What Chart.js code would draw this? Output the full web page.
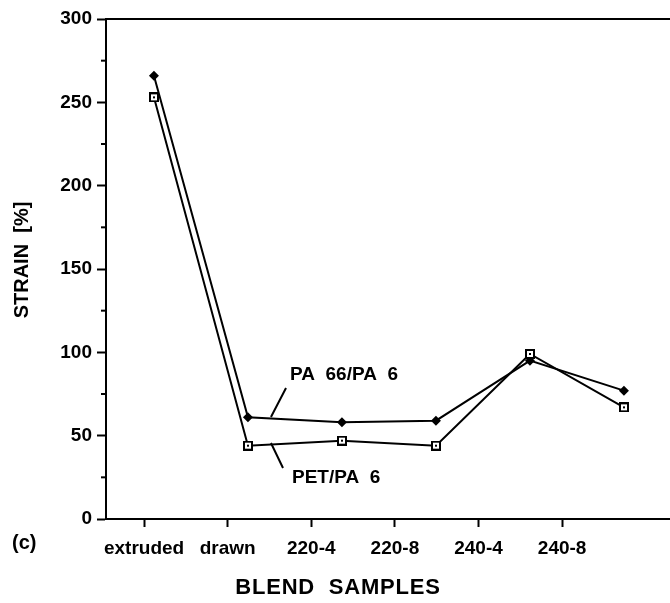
<!DOCTYPE html>
<html>
<head>
<meta charset="utf-8">
<script src="https://cdn.jsdelivr.net/npm/chart.js@4/dist/chart.umd.min.js"></script>
<style>
  html, body { margin: 0; padding: 0; background: #fff; }
</style>
</head>
<body>
<canvas id="chart" width="670" height="603"></canvas>
<script>
const samples = ['extruded', 'drawn', '220-4', '220-8', '240-4', '240-8'];
const pa66Strain = [266, 61, 58, 59, 95, 77];
const petStrain = [253, 44, 47, 44, 99, 67];
const yMinorTicks = [25, 75, 125, 175, 225, 275];

const FONT = "'Liberation Sans', Arial, Helvetica, sans-serif";

// open square with a dot in the middle
function squareMarker() {
  const c = document.createElement('canvas');
  c.width = 10; c.height = 10;
  const g = c.getContext('2d');
  g.fillStyle = '#fff';
  g.fillRect(0, 0, 10, 10);
  g.strokeStyle = '#000';
  g.lineWidth = 2;
  g.strokeRect(1, 1, 8, 8);
  g.fillStyle = '#000';
  g.fillRect(4, 4, 2, 2);
  return c;
}

const toPoints = vals => vals.map((v, i) => ({ x: i, y: v }));

const extras = {
  id: 'extras',
  afterDatasetsDraw(chart) {
    const ctx = chart.ctx;
    const { left, right, top } = chart.chartArea;
    const x = chart.scales.x, y = chart.scales.y;
    ctx.save();
    ctx.strokeStyle = '#000';
    ctx.fillStyle = '#000';

    // frame top
    ctx.lineWidth = 2;
    ctx.beginPath();
    ctx.moveTo(left, top);
    ctx.lineTo(right, top);
    ctx.stroke();

    // minor ticks
    yMinorTicks.forEach(v => {
      const py = y.getPixelForValue(v);
      ctx.beginPath();
      ctx.moveTo(left - 5, py);
      ctx.lineTo(left, py);
      ctx.stroke();
    });

    // series labels + leaders
    ctx.font = 'bold 19px ' + FONT;
    ctx.textBaseline = 'middle';
    ctx.textAlign = 'left';
    ctx.fillText('PA  66/PA  6', x.getPixelForValue(1.447), y.getPixelForValue(86.4));
    ctx.fillText('PET/PA  6', x.getPixelForValue(1.469), y.getPixelForValue(24.6));
    ctx.lineWidth = 2;
    ctx.beginPath();
    ctx.moveTo(x.getPixelForValue(1.405), y.getPixelForValue(78.6));
    ctx.lineTo(x.getPixelForValue(1.245), y.getPixelForValue(61.2));
    ctx.moveTo(x.getPixelForValue(1.245), y.getPixelForValue(45.6));
    ctx.lineTo(x.getPixelForValue(1.373), y.getPixelForValue(30.6));
    ctx.stroke();

    // axis titles
    ctx.font = 'bold 20px ' + FONT;
    ctx.textAlign = 'left';
    ctx.fillText('(c)', 12, 543);

    ctx.font = 'bold 22px ' + FONT;
    ctx.textAlign = 'center';
    ctx.letterSpacing = '0.8px';
    ctx.fillText('BLEND  SAMPLES', 338, 588);

    ctx.font = 'bold 20px ' + FONT;
    ctx.letterSpacing = '0px';
    ctx.translate(22, 260);
    ctx.rotate(-Math.PI / 2);
    ctx.fillText('STRAIN  [%]', 0, 0);
    ctx.restore();
  }
};

new Chart(document.getElementById('chart'), {
  type: 'line',
  data: {
    datasets: [
      {
        label: 'PET/PA 6',
        data: toPoints(petStrain),
        borderColor: '#000',
        borderWidth: 2,
        pointStyle: squareMarker(),
        pointRadius: 5,
        tension: 0
      },
      {
        label: 'PA 66/PA 6',
        data: toPoints(pa66Strain),
        borderColor: '#000',
        backgroundColor: '#000',
        borderWidth: 2,
        pointStyle: 'rectRot',
        pointRadius: 5,
        pointBorderWidth: 0,
        pointBackgroundColor: '#000',
        tension: 0
      }
    ]
  },
  options: {
    responsive: false,
    devicePixelRatio: 1,
    animation: false,
    layout: { autoPadding: false, padding: { top: 19, right: 0, left: 0, bottom: 0 } },
    plugins: { legend: { display: false }, tooltip: { enabled: false } },
    scales: {
      x: {
        type: 'linear',
        display: false,
        min: -0.51,
        max: 5.49
      },
      xl: {
        type: 'linear',
        position: 'bottom',
        min: -0.455,
        max: 6.29,
        afterBuildTicks: s => { s.ticks = samples.map((_, i) => ({ value: i })); },
        afterFit: s => { s.height = 84; s.paddingLeft = 0; s.paddingRight = 0; },
        grid: { drawOnChartArea: false, tickLength: 8, tickWidth: 2, tickColor: '#000' },
        border: { color: '#000', width: 2 },
        ticks: {
          color: '#000',
          font: { family: FONT, size: 19, weight: 'bold' },
          padding: 10,
          autoSkip: false,
          maxRotation: 0,
          callback: v => samples[v]
        }
      },
      y: {
        type: 'linear',
        min: 0,
        max: 300,
        afterFit: s => { s.width = 106; },
        grid: { drawOnChartArea: false, tickLength: 9, tickWidth: 2, tickColor: '#000' },
        border: { color: '#000', width: 2 },
        ticks: {
          stepSize: 50,
          color: '#000',
          padding: 5,
          font: { family: FONT, size: 19, weight: 'bold' }
        }
      }
    }
  },
  plugins: [extras]
});
</script>
</body>
</html>
